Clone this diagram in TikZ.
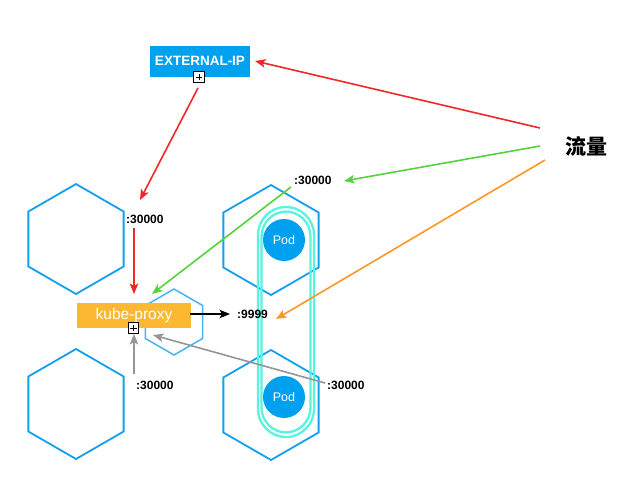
\documentclass[tikz,border=0pt]{standalone}
\usepackage{fontspec}
\setmainfont{Liberation Sans}
\newfontfamily\cjk{Noto Sans CJK SC}
\usetikzlibrary{shapes.geometric,arrows.meta}
\definecolor{hexblue}{RGB}{17,160,240}
\definecolor{hexlight}{RGB}{70,182,240}
\definecolor{podblue}{RGB}{0,160,240}
\definecolor{extblue}{RGB}{0,162,240}
\definecolor{proxyorange}{RGB}{253,184,51}
\definecolor{capcyan}{RGB}{88,244,224}
\definecolor{ared}{RGB}{240,40,40}
\definecolor{agreen}{RGB}{85,210,60}
\definecolor{aorange}{RGB}{255,150,40}
\definecolor{agray}{RGB}{150,150,150}
\tikzset{
  hexbig/.style={regular polygon, regular polygon sides=6, shape border rotate=30,
    minimum size=110pt, inner sep=0pt, outer sep=0pt, draw=hexblue, line width=1.8pt},
  hexsmall/.style={regular polygon, regular polygon sides=6, shape border rotate=30,
    minimum size=66pt, inner sep=0pt, outer sep=0pt, draw=hexlight, line width=1.5pt},
  pod/.style={circle, fill=podblue, minimum size=42pt, inner sep=0pt, text=white,
    font=\fontsize{12.5}{14}\selectfont},
  portlabel/.style={inner sep=0pt, font=\bfseries\fontsize{12}{14}\selectfont},
  plusbox/.style={draw=black, fill=white, line width=0.8pt, minimum size=10.5pt, inner sep=0pt,
    path picture={\draw[line width=0.7pt] ([xshift=2pt]path picture bounding box.west) -- ([xshift=-2pt]path picture bounding box.east);
      \draw[line width=0.7pt] ([yshift=-2pt]path picture bounding box.north) -- ([yshift=2pt]path picture bounding box.south);}},
  flowarrow/.style={line width=1.6pt, -{Stealth[length=10.5pt,width=8.5pt,inset=2.5pt]}},
  capsule/.style={draw=capcyan, line width=2.3pt}
}
\begin{document}
\begin{tikzpicture}[x=1pt,y=-1pt]
\useasboundingbox (0,0) rectangle (641,480);
\fill[white] (0,0) rectangle (641,480);

% hexagons (nodes of the cluster)
\node[hexbig] (h1) at (76,239) {};
\node[hexbig] (h2) at (76,404) {};
\node[hexbig] (h3) at (271,240) {};
\node[hexbig] (h4) at (271,405) {};
\node[hexsmall] (hs) at (174,322) {};

% service capsule
\draw[capsule, rounded corners=28pt] (258,207) rectangle (314,437);
\draw[capsule, rounded corners=25pt] (261.5,211.5) rectangle (310.5,432.5);

% pods
\node[pod] (pod1) at (284,240) {Pod};
\node[pod] (pod2) at (284,397) {Pod};

% boxes
\node[fill=extblue, text=white, minimum width=100pt, minimum height=31pt, inner sep=0pt,
  font=\bfseries\fontsize{13.5}{15}\selectfont] (ext) at (200,61) {EXTERNAL-IP};
\node[plusbox] (extplus) at (199,77) {};
\node[fill=proxyorange, text=white, minimum width=114pt, minimum height=25pt, inner sep=0pt,
  font=\fontsize{15.5}{17}\selectfont] (proxy) at (134,315.5) {kube-proxy};
\node[plusbox] (proxyplus) at (133.5,328) {};

% labels
\node[portlabel, anchor=west] (l1) at (126,219) {:30000};
\node[portlabel, anchor=west] (l2) at (294,180) {:30000};
\node[portlabel, anchor=west] (l3) at (237,314) {:9999};
\node[portlabel, anchor=west] (l4) at (136,385) {:30000};
\node[portlabel, anchor=west] (l5) at (327,385) {:30000};
\node[inner sep=0pt, font=\cjk\bfseries\fontsize{21}{24}\selectfont] (flow) at (586,146) {流量};

% connector end points
\coordinate (fr) at (540,128);
\coordinate (fg) at (540,146);
\coordinate (fo) at (545,160);
\coordinate (extin) at (255,61);
\coordinate (l2in) at (344,181);
\coordinate (l3in) at (276,319);
\coordinate (extout) at (198,88);
\coordinate (l1in) at (140,200);
\coordinate (l1out) at (134,228);
\coordinate (proxyin) at (134,294);
\coordinate (l2out) at (291,187);
\coordinate (proxyin2) at (152,294);
\coordinate (proxyout) at (190,314);
\coordinate (l3w) at (230,314);
\coordinate (l4out) at (134,374);
\coordinate (plusin) at (134,334);
\coordinate (l5out) at (325,383);
\coordinate (hsin) at (153,335);

% connectors
\draw[flowarrow, ared] (fr) -- (extin);
\draw[flowarrow, ared] (extout) -- (l1in);
\draw[flowarrow, ared] (l1out) -- (proxyin);
\draw[flowarrow, agreen] (fg) -- (l2in);
\draw[flowarrow, agreen] (l2out) -- (proxyin2);
\draw[flowarrow, aorange] (fo) -- (l3in);
\draw[flowarrow, black] (proxyout) -- (l3w);
\draw[flowarrow, agray] (l4out) -- (plusin);
\draw[flowarrow, agray] (l5out) -- (hsin);
\end{tikzpicture}
\end{document}
